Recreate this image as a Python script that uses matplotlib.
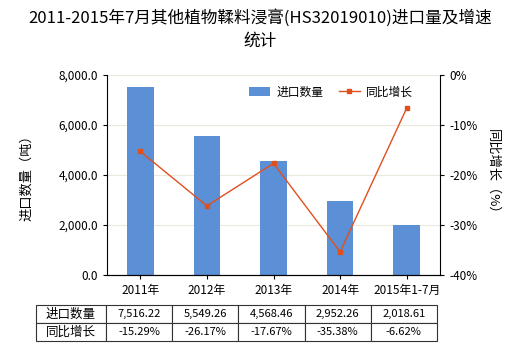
import matplotlib
matplotlib.use('Agg')
import matplotlib.pyplot as plt
import numpy as np

plt.rcParams['font.family'] = ['Noto Sans CJK SC', 'DejaVu Sans']

# 数据
years = ['2011年', '2012年', '2013年', '2014年', '2015年1-7月']
qty = [7516.22, 5549.26, 4568.46, 2952.26, 2018.61]
growth = [-15.29, -26.17, -17.67, -35.38, -6.62]
qty_labels = ['7,516.22', '5,549.26', '4,568.46', '2,952.26', '2,018.61']
growth_labels = ['-15.29%', '-26.17%', '-17.67%', '-35.38%', '-6.62%']

fig = plt.figure(figsize=(5.2, 3.5), dpi=100)
ax = fig.add_axes([107/520, 75/350, 333/520, 200/350])
x = np.arange(len(years))

ax.bar(x, qty, width=0.4, color='#5B8FD6', label='进口数量', zorder=2)
ax.set_ylim(0, 8000)
ax.set_yticks([0, 2000, 4000, 6000, 8000])
ax.set_yticklabels(['0.0', '2,000.0', '4,000.0', '6,000.0', '8,000.0'])
ax.set_xlim(-0.5, 4.5)
ax.set_xticks(x)
ax.set_xticklabels(years)
ax.yaxis.grid(True, color='#ebe8dc', linewidth=0.8, zorder=0)
ax.set_ylabel('进口数量（吨）', fontsize=9.5, labelpad=18)
ax.tick_params(labelsize=8.5, length=3)
for s in ['top', 'right']:
    ax.spines[s].set_visible(False)

ax2 = ax.twinx()
ax2.plot(x, growth, color='#E0501E', linewidth=1, marker='s', markersize=3.5, label='同比增长', zorder=3)
ax2.set_ylim(-40, 0)
ax2.set_yticks([-40, -30, -20, -10, 0])
ax2.set_yticklabels(['-40%', '-30%', '-20%', '-10%', '0%'])
ax2.set_ylabel('同比增长（%）', fontsize=9.5, rotation=270, labelpad=16)
ax2.tick_params(labelsize=8.5, length=3)
for s in ['top', 'left']:
    ax2.spines[s].set_visible(False)

h1, l1 = ax.get_legend_handles_labels()
h2, l2 = ax2.get_legend_handles_labels()
ax2.legend(h1 + h2, l1 + l2, loc='upper right', bbox_to_anchor=(0.95, 1.0), ncol=2,
           frameon=False, fontsize=8.5, handlelength=1.8, handletextpad=0.5,
           columnspacing=1.3)

fig.text(0.5, 0.975, '2011-2015年7月其他植物鞣料浸膏(HS32019010)进口量及增速\n统计',
         ha='center', va='top', fontsize=12, linespacing=1.45)

# 表格
tax = fig.add_axes([36/520, 9/350, 401/520, 36/350])
tax.axis('off')
cells = [['进口数量'] + qty_labels, ['同比增长'] + growth_labels]
tbl = tax.table(cellText=cells, bbox=[0, 0, 1, 1],
                colWidths=[70] + [66.2] * 5, cellLoc='center')
tbl.auto_set_font_size(False)
tbl.set_fontsize(8)
for (r, c), cell in tbl.get_celld().items():
    cell.set_linewidth(0.8)
    cell.set_edgecolor('#333333')
    if c == 0:
        cell._loc = 'left'
        cell.PAD = 0.01
        cell.get_text().set_fontsize(9)

fig.savefig('out.png', dpi=100)
